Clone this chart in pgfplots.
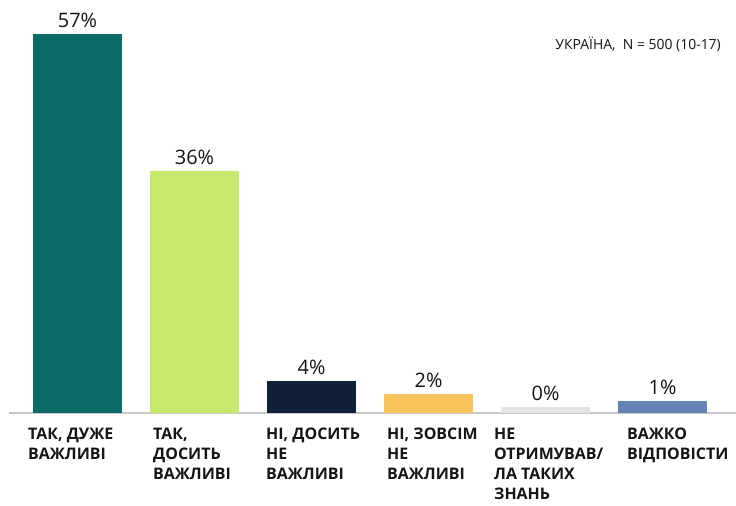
\documentclass[border=0pt]{standalone}
\usepackage{fontspec}
\setmainfont{Open Sans}
\usepackage{pgfplots}
\usepackage{pgfplotstable}
\pgfplotsset{compat=1.18}
\definecolor{BarTeal}{HTML}{0C6B67}
\definecolor{BarLime}{HTML}{C4E96C}
\definecolor{BarNavy}{HTML}{101F38}
\definecolor{BarGold}{HTML}{F9C45C}
\definecolor{BarGrey}{HTML}{E4E4E4}
\definecolor{BarBlue}{HTML}{6384B3}
\definecolor{BaseLine}{HTML}{C8C8C8}
\definecolor{Ink}{HTML}{151515}

% share of answers, percent
\pgfplotstableread{
x v
0 57
1 36
2 4
3 2
4 0
5 1
}\answers

\begin{document}
\begin{tikzpicture}
\useasboundingbox[fill=white] (0,0) rectangle (736bp,506bp);
\draw[BaseLine,line width=2.6bp] (9bp,93bp) -- (736bp,93bp);
\begin{axis}[at={(10bp,93bp)},anchor=south west,scale only axis,
  width=726bp,height=393bp,xmin=-0.5769,xmax=5.6282,ymin=0,ymax=60,
  hide axis,clip=false,ybar,bar width=89bp,bar shift=0pt,
  point meta=explicit,/pgf/number format/assume math mode=true,
  nodes near coords={\pgfmathprintnumber{\pgfplotspointmeta}\%},
  every node near coord/.append style={font=\fontsize{20}{22}\selectfont,text=Ink,inner sep=0pt,yshift=6bp}]
\addplot[fill=BarTeal,draw=none,restrict x to domain=-0.2:0.2] table[x=x,y expr=\thisrow{v}+0.9,meta=v]{\answers};
\addplot[fill=BarLime,draw=none,restrict x to domain=0.8:1.2] table[x=x,y expr=\thisrow{v}+0.9,meta=v]{\answers};
\addplot[fill=BarNavy,draw=none,restrict x to domain=1.8:2.2] table[x=x,y expr=\thisrow{v}+0.9,meta=v]{\answers};
\addplot[fill=BarGold,draw=none,restrict x to domain=2.8:3.2] table[x=x,y expr=\thisrow{v}+0.9,meta=v]{\answers};
\addplot[fill=BarGrey,draw=none,restrict x to domain=3.8:4.2] table[x=x,y expr=\thisrow{v}+0.9,meta=v]{\answers};
\addplot[fill=BarBlue,draw=none,restrict x to domain=4.8:5.2] table[x=x,y expr=\thisrow{v}+0.9,meta=v]{\answers};
\end{axis}
\node[anchor=base east,text=Ink,font=\fontsize{14}{16}\selectfont,inner sep=0pt] at (721bp,456bp) {УКРАЇНА,\ \ N = 500 (10-17)};
\tikzset{cat/.style={anchor=north west,align=left,inner sep=0pt,text=Ink,font=\fontsize{16}{20}\selectfont\bfseries}}
\node[cat] at (28bp,78bp) {ТАК, ДУЖЕ\\ВАЖЛИВІ};
\node[cat] at (153bp,78bp) {ТАК,\\ДОСИТЬ\\ВАЖЛИВІ};
\node[cat] at (266bp,78bp) {НІ, ДОСИТЬ\\НЕ\\ВАЖЛИВІ};
\node[cat] at (387bp,78bp) {НІ, ЗОВСІМ\\НЕ\\ВАЖЛИВІ};
\node[cat] at (494bp,78bp) {НЕ\\ОТРИМУВАВ/\\ЛА ТАКИХ\\ЗНАНЬ};
\node[cat] at (627bp,78bp) {ВАЖКО\\ВІДПОВІСТИ};
\end{tikzpicture}
\end{document}
